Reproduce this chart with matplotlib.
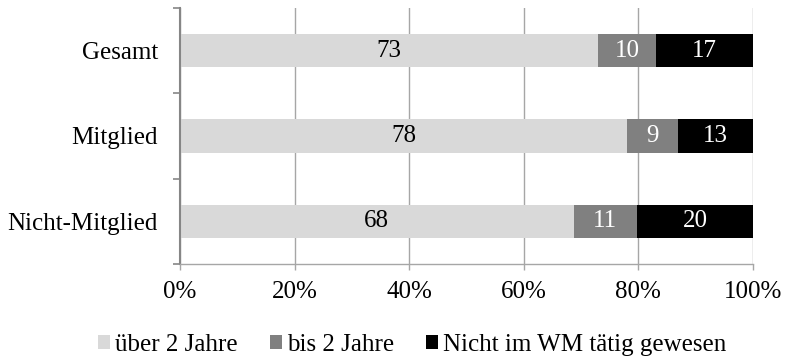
import numpy as np
import matplotlib.pyplot as plt
from matplotlib.ticker import FixedLocator, PercentFormatter

plt.rcParams['font.family'] = ['Liberation Serif', 'DejaVu Serif']

groups = ['Gesamt', 'Mitglied', 'Nicht-Mitglied']
ueber2 = [73, 78, 68]
bis2 = [10, 9, 11]
nicht = [17, 13, 20]
series = ['über 2 Jahre', 'bis 2 Jahre', 'Nicht im WM tätig gewesen']
colors = ['#d9d9d9', '#808080', '#000000']
text_colors = ['black', 'white', 'white']

data = np.array([ueber2, bis2, nicht], dtype=float)
shares = data / data.sum(axis=0) * 100  # scale each row to 100 %

fig = plt.figure(figsize=(7.86, 3.59), dpi=100)
ax = fig.add_axes([0.229, 0.265, 0.729, 0.713])

ypos = np.arange(len(groups))[::-1] + 0.5
left = np.zeros(len(groups))
for vals, share, name, col, tcol in zip(data, shares, series, colors, text_colors):
    ax.barh(ypos, share, left=left, height=0.39, color=col, label=name, zorder=2)
    for y, l, w, v in zip(ypos, left, share, vals):
        ax.text(l + w / 2, y, f'{v:.0f}', ha='center', va='center',
                color=tcol, fontsize=18, zorder=3)
    left += share

ax.set_xlim(0, 100)
ax.set_ylim(0, 3)
ax.xaxis.set_major_locator(FixedLocator([0, 20, 40, 60, 80, 100]))
ax.xaxis.set_major_formatter(PercentFormatter(decimals=0))
ax.grid(axis='x', color='#a6a6a6', linewidth=1, zorder=0)

ax.yaxis.set_major_locator(FixedLocator([0, 1, 2, 3]))
ax.yaxis.set_major_formatter(plt.NullFormatter())
ax.yaxis.set_minor_locator(FixedLocator(ypos))
ax.set_yticklabels(groups, minor=True)
ax.tick_params(axis='y', which='minor', length=0, pad=16, labelsize=18)
ax.tick_params(axis='y', which='major', length=5, width=1.2, color='#868686')
ax.tick_params(axis='x', length=4.5, width=1, color='#a6a6a6', labelsize=18, pad=8)

for side in ['top', 'right']:
    ax.spines[side].set_visible(False)
ax.spines['left'].set_color('#868686')
ax.spines['left'].set_linewidth(1.5)
ax.spines['bottom'].set_color('#a6a6a6')
ax.spines['bottom'].set_linewidth(1)

ax.legend(loc='center', bbox_to_anchor=(0.405, -0.317), ncol=3, frameon=False,
          fontsize=18, handlelength=0.48, handleheight=0.48, handletextpad=0.2,
          columnspacing=1.3, borderaxespad=0, borderpad=0)

fig.savefig('out.png', dpi=100)
